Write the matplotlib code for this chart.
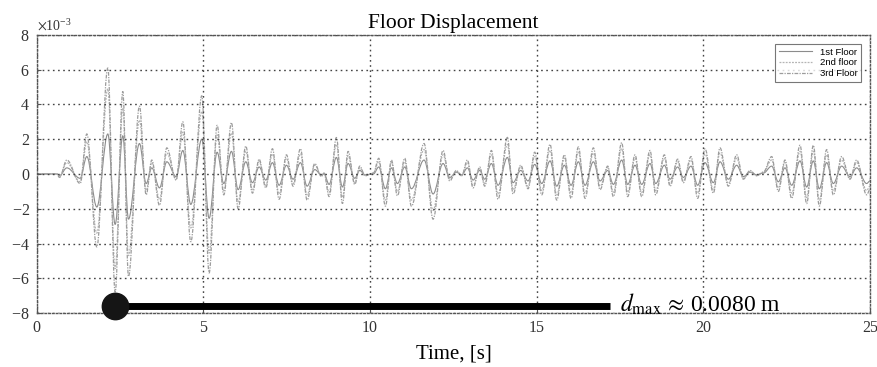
"""Floor displacement time history (three floors) with d_max annotation."""
import matplotlib
matplotlib.use("Agg")
import matplotlib.pyplot as plt
from matplotlib.lines import Line2D
from matplotlib.patches import PathPatch
from matplotlib.path import Path
from matplotlib.ticker import ScalarFormatter

SERIF = ["Liberation Serif", "DejaVu Serif"]
SANS = ["Liberation Sans", "DejaVu Sans"]
plt.rcParams["mathtext.fontset"] = "stix"

# Time of each peak / trough of the response, [s]
time_s = [
    0.0, 0.6, 0.68, 0.9, 1.3, 1.5, 1.8, 2.13, 2.35, 2.58, 2.75, 3.08, 3.28, 3.45,
    3.68, 3.9, 4.18, 4.38, 4.62, 4.95, 5.17, 5.41, 5.61, 5.84, 6.04, 6.27, 6.47,
    6.67, 6.87, 7.07, 7.27, 7.49, 7.69, 7.91, 8.11, 8.34, 8.54, 8.62, 8.77, 8.99,
    9.17, 9.34, 9.54, 9.69, 9.85, 10.1, 10.26, 10.46, 10.64, 10.82, 11.04, 11.24,
    11.62, 11.89, 12.19, 12.39, 12.59, 12.75, 12.92, 13.09, 13.29, 13.44, 13.64,
    13.84, 14.12, 14.29, 14.52, 14.74, 14.94, 15.15, 15.4, 15.6, 15.83, 16.03,
    16.25, 16.45, 16.7, 16.9, 17.13, 17.3, 17.55, 17.73, 17.95, 18.15, 18.4,
    18.57, 18.83, 19.0, 19.23, 19.4, 19.63, 19.83, 20.05, 20.3, 20.5, 20.75,
    21.0, 21.2, 21.4, 21.6, 21.8, 22.05, 22.25, 22.45, 22.65, 22.9, 23.1, 23.3,
    23.48, 23.7, 23.9, 24.15, 24.4, 24.6, 24.9, 25.0,
]

# Displacements at those instants, [x 1e-3 m]
floor3 = [
    0.0, 0.0, -0.2, 0.8, -0.55, 2.3, -4.2, 6.1, -6.8, 4.75, -5.9, 3.9, -1.2, 0.8,
    -1.8, 1.5, -0.35, 3.0, -3.9, 4.5, -5.7, 2.8, -1.2, 2.95, -2.0, 1.6, -1.1,
    0.85, -0.8, 1.45, -1.45, 1.1, -0.7, 1.45, -1.5, 0.6, -0.15, 0.05, -1.3, 2.1,
    -1.7, 1.3, -0.6, 0.45, -0.1, 0.05, 0.9, -1.85, 0.8, -1.25, 0.9, -1.85,
    1.75, -2.6, 1.35, -0.4, 0.2, -0.1, 0.8, -0.8, 0.4, -0.7, 1.35,
    -1.45, 2.1, -1.15, 0.5, -0.85, 1.25, -1.2, 1.7, -1.5, 1.1, -1.4,
    1.55, -1.4, 1.5, -0.9, 0.45, -1.3, 1.8, -1.3, 1.1, -1.3, 1.35,
    -1.2, 1.1, -0.7, 0.85, -0.5, 1.0, -1.4, 1.45, -1.1, 1.5, -0.7,
    1.1, -0.3, 0.2, -0.1, 0.1, 1.0, -1.0, 0.8, -1.4, 1.65, -1.7, 1.65,
    -1.85, 1.4, -1.2, 1.0, -0.3, 0.8, -1.2, -0.9,
]
floor2 = [
    0.0, 0.0, -0.15, 0.65, -0.45, 1.85, -3.4, 4.9, -5.45, 3.8, -4.7, 3.1, -0.95, 0.65,
    -1.45, 1.2, -0.3, 2.4, -3.1, 3.6, -4.55, 2.25, -0.95, 2.35, -1.6, 1.3, -0.9,
    0.7, -0.65, 1.15, -1.15, 0.9, -0.55, 1.15, -1.2, 0.5, -0.1, 0.05, -1.05, 1.7,
    -1.35, 1.05, -0.5, 0.35, -0.1, 0.05, 0.7, -1.5, 0.65, -1.0, 0.7, -1.5,
    1.4, -2.1, 1.1, -0.3, 0.15, -0.1, 0.65, -0.65, 0.3, -0.55, 1.1,
    -1.15, 1.7, -0.9, 0.4, -0.7, 1.0, -0.95, 1.35, -1.2, 0.9, -1.1,
    1.25, -1.1, 1.2, -0.7, 0.35, -1.05, 1.45, -1.05, 0.9, -1.05, 1.1,
    -0.95, 0.9, -0.55, 0.7, -0.4, 0.8, -1.1, 1.15, -0.9, 1.2, -0.55,
    0.9, -0.25, 0.15, -0.1, 0.1, 0.8, -0.8, 0.65, -1.1, 1.3, -1.35, 1.3,
    -1.5, 1.1, -0.95, 0.8, -0.25, 0.65, -0.95, -0.7,
]
floor1 = [
    0.0, 0.0, -0.1, 0.35, -0.25, 1.0, -1.9, 2.3, -2.9, 2.2, -2.6, 1.75, -0.55, 0.35,
    -0.8, 0.7, -0.15, 1.35, -1.75, 2.0, -2.55, 1.25, -0.55, 1.3, -0.9, 0.7, -0.5,
    0.4, -0.35, 0.65, -0.65, 0.5, -0.3, 0.65, -0.7, 0.25, -0.05, 0.0, -0.6, 0.95,
    -0.75, 0.6, -0.25, 0.2, -0.05, 0.0, 0.4, -0.85, 0.35, -0.55, 0.4, -0.85,
    0.8, -1.15, 0.6, -0.2, 0.1, -0.05, 0.35, -0.35, 0.2, -0.3, 0.6,
    -0.65, 0.95, -0.5, 0.2, -0.4, 0.55, -0.55, 0.75, -0.7, 0.5, -0.65,
    0.7, -0.65, 0.7, -0.4, 0.2, -0.6, 0.8, -0.6, 0.5, -0.6, 0.6,
    -0.55, 0.5, -0.3, 0.4, -0.2, 0.45, -0.65, 0.65, -0.5, 0.7, -0.3,
    0.5, -0.15, 0.1, -0.05, 0.05, 0.45, -0.45, 0.35, -0.65, 0.75, -0.75, 0.75,
    -0.85, 0.65, -0.55, 0.45, -0.15, 0.35, -0.55, -0.4,
]

series_labels = ["1st Floor", "2nd floor", "3rd Floor"]

# d_max marker
D_MAX_LABEL = "0.0080"  # [m]
MARKER_T = 2.35         # [s]
MARKER_D = -7.6e-3      # [m]
BAR_END_T = 17.2        # [s]


def smooth_path(ts, vs):
    """Bezier path through the extrema with flat tangents at each peak."""
    verts = [(ts[0], vs[0])]
    codes = [Path.MOVETO]
    for i in range(len(ts) - 1):
        dt = ts[i + 1] - ts[i]
        verts += [(ts[i] + dt * 0.36, vs[i]),
                  (ts[i + 1] - dt * 0.36, vs[i + 1]),
                  (ts[i + 1], vs[i + 1])]
        codes += [Path.CURVE4] * 3
    return Path(verts, codes)


def main():
    fig = plt.figure(figsize=(8.77, 3.67), dpi=100)
    ax = fig.add_axes([0.042, 0.147, 0.950, 0.758])

    styles = [
        dict(color="#8c8c8c", lw=0.8, ls="-"),
        dict(color="#b4b4b4", lw=0.9, ls=(0, (1.5, 1))),
        dict(color="#9c9c9c", lw=0.9, ls=(0, (3, 1, 1, 1))),
    ]
    handles = []
    for vals, lab, st in zip([floor1, floor2, floor3], series_labels, styles):
        path = smooth_path(time_s, [v * 1e-3 for v in vals])
        ax.add_patch(PathPatch(path, facecolor="none", edgecolor=st["color"],
                               lw=st["lw"], ls=st["ls"]))
        handles.append(Line2D([], [], label=lab, **st))

    # thick bar + dot marking the peak displacement
    ax.plot([MARKER_T, BAR_END_T], [MARKER_D, MARKER_D], color="black",
            lw=5, solid_capstyle="butt", zorder=5)
    ax.plot([MARKER_T], [MARKER_D], "o", color="#151515", ms=19, zorder=6,
            clip_on=False)
    ax.text(BAR_END_T + 0.3, MARKER_D + 0.1e-3,
            r"$d_{\mathrm{max}}\,\approx\,$" + D_MAX_LABEL + " m",
            fontsize=17, family=SERIF, va="center", ha="left", zorder=7)

    ax.set_xlim(0, 25)
    ax.set_ylim(-8e-3, 8e-3)
    ax.set_xticks([0, 5, 10, 15, 20, 25])
    ax.set_yticks([v * 1e-3 for v in range(-8, 9, 2)])
    fmt = ScalarFormatter(useMathText=True)
    fmt.set_powerlimits((-3, -3))
    ax.yaxis.set_major_formatter(fmt)
    ax.yaxis.get_offset_text().set_fontsize(10)
    ax.yaxis.get_offset_text().set_family(SERIF)

    ax.grid(True, color="#444444", ls=(0, (1.2, 2.5)), lw=1.0)
    for sp in ax.spines.values():
        sp.set_color("#555555")
        sp.set_linestyle((0, (1.2, 1.5)))
        sp.set_linewidth(1.0)
    ax.tick_params(direction="in", length=3, color="#555555", labelsize=11.5,
                   labelcolor="#333333", pad=5)
    for lbl in ax.get_xticklabels() + ax.get_yticklabels():
        lbl.set_family(SERIF)

    ax.set_title("Floor Displacement", fontsize=15.5, family=SERIF, pad=5)
    ax.set_xlabel("Time, [s]", fontsize=15, family=SERIF, labelpad=6)

    leg = ax.legend(handles=handles, loc="upper right",
                    prop={"family": SANS, "size": 6.8},
                    frameon=True, fancybox=False, handlelength=3.5,
                    borderpad=0.4, labelspacing=0.2,
                    bbox_to_anchor=(0.995, 0.985))
    leg.get_frame().set_edgecolor("#555555")
    leg.get_frame().set_linewidth(0.8)

    fig.savefig("out.png", dpi=100)
    plt.close(fig)


if __name__ == "__main__":
    main()
